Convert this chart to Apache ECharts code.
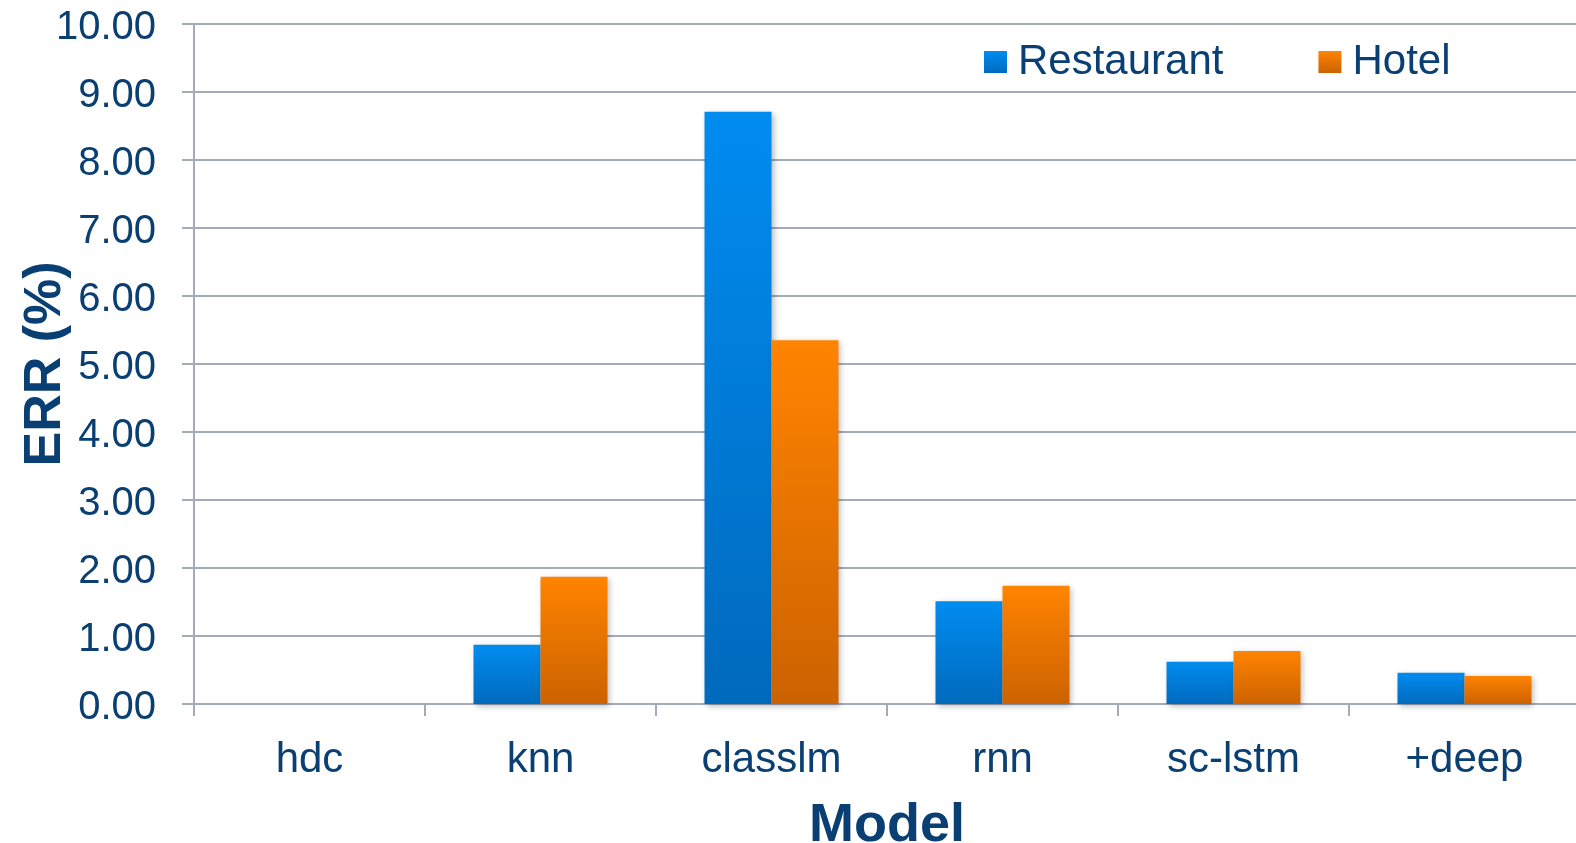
<!DOCTYPE html>
<html>
<head>
<meta charset="utf-8">
<script src="https://cdn.jsdelivr.net/npm/echarts@6/dist/echarts.min.js"></script>
<style>
  html, body { margin: 0; padding: 0; background: #ffffff; }
  #chart { width: 1576px; height: 843px; }
</style>
</head>
<body>
<div id="chart"></div>
<script>
// Error rate (ERR, %) per model for the two domains
const models = ['hdc', 'knn', 'classlm', 'rnn', 'sc-lstm', '+deep'];
const restaurant = [0, 0.87, 8.71, 1.51, 0.62, 0.46];
const hotel = [0, 1.87, 5.35, 1.74, 0.78, 0.41];
const yTicks = { min: 0, max: 10, step: 1 };

const textColor = '#0A3F73';
const gridColor = '#A3AABA';
const font = "'Liberation Sans', Arial, Helvetica, sans-serif";

function vGrad(top, bottom) {
  return new echarts.graphic.LinearGradient(0, 0, 0, 1, [
    { offset: 0, color: top },
    { offset: 1, color: bottom }
  ]);
}

const barShadow = {
  shadowBlur: 6,
  shadowColor: 'rgba(0,0,0,0.28)',
  shadowOffsetX: 2,
  shadowOffsetY: 2
};

const chart = echarts.init(document.getElementById('chart'), null, { renderer: 'canvas' });

chart.setOption({
  backgroundColor: '#ffffff',
  animation: false,
  textStyle: { fontFamily: font },
  grid: {
    left: 194, right: -4, top: 24, bottom: 139,
    containLabel: false,
    outerBoundsMode: 'none'
  },
  legend: {
    left: 979,
    top: 36,
    itemWidth: 23,
    itemHeight: 22,
    itemGap: 95,
    icon: 'rect',
    textStyle: { color: textColor, fontSize: 42, fontFamily: font, padding: [0, 0, 0, 6] },
    data: ['Restaurant', 'Hotel']
  },
  xAxis: {
    type: 'category',
    data: models,
    name: 'Model',
    nameLocation: 'middle',
    nameGap: 95,
    nameMoveOverlap: false,
    nameTextStyle: { color: textColor, fontSize: 54, fontWeight: 'bold', fontFamily: font },
    axisLine: { show: true, lineStyle: { color: gridColor, width: 2 } },
    axisTick: { show: true, length: 12, lineStyle: { color: gridColor, width: 2 } },
    axisLabel: { color: textColor, fontSize: 42, margin: 35, fontFamily: font },
    splitLine: { show: false }
  },
  yAxis: {
    type: 'value',
    min: yTicks.min,
    max: yTicks.max,
    interval: yTicks.step,
    name: 'ERR (%)',
    nameLocation: 'middle',
    nameGap: 122,
    nameRotate: 90,
    nameMoveOverlap: false,
    nameTextStyle: { color: textColor, fontSize: 52, fontWeight: 'bold', fontFamily: font },
    axisLine: { show: true, lineStyle: { color: gridColor, width: 2 } },
    axisTick: { show: true, length: 12, lineStyle: { color: gridColor, width: 2 } },
    axisLabel: {
      color: textColor,
      margin: 38,
      formatter: v => '{t|' + v.toFixed(2) + '}',
      rich: {
        t: { color: textColor, fontSize: 40, fontFamily: font, padding: [7, 0, 0, 0] }
      }
    },
    splitLine: { show: true, lineStyle: { color: gridColor, width: 2 } }
  },
  series: [
    {
      name: 'Restaurant',
      type: 'bar',
      data: restaurant,
      barGap: '0%',
      barCategoryGap: '42%',
      itemStyle: Object.assign({ color: vGrad('#008CF0', '#006ABD') }, barShadow)
    },
    {
      name: 'Hotel',
      type: 'bar',
      data: hotel,
      barGap: '0%',
      barCategoryGap: '42%',
      itemStyle: Object.assign({ color: vGrad('#FF8400', '#CC6200') }, barShadow)
    }
  ]
});
</script>
</body>
</html>
